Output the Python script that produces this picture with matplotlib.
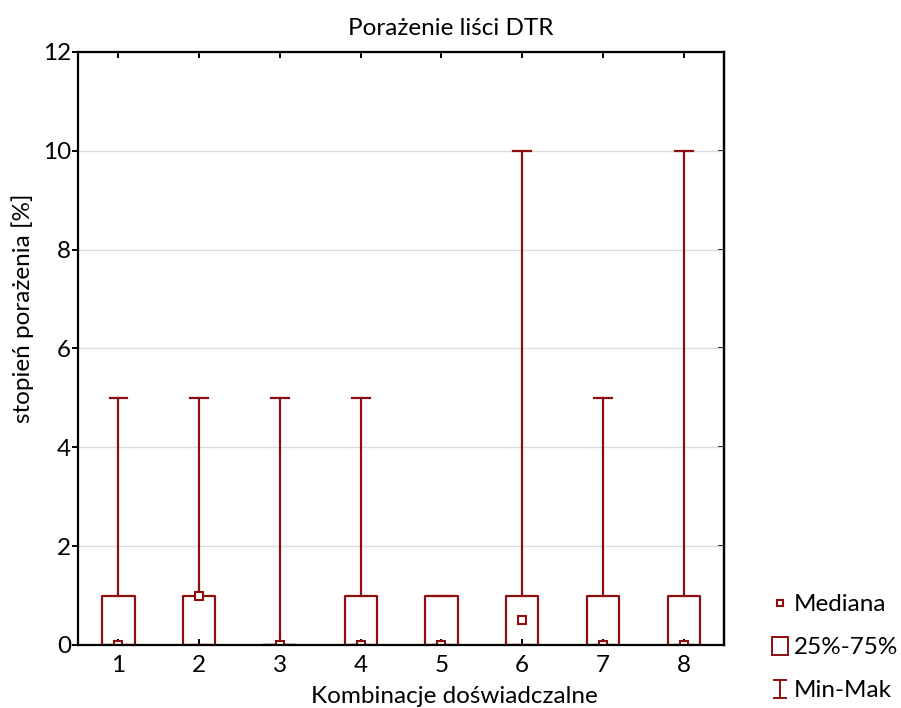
import matplotlib.pyplot as plt
from matplotlib.lines import Line2D
from matplotlib.patches import Rectangle
from matplotlib.legend_handler import HandlerBase

plt.rcParams['font.family'] = ['Lato', 'DejaVu Sans']

groups = [1, 2, 3, 4, 5, 6, 7, 8]
mins = [0, 0, 0, 0, 0, 0, 0, 0]
q1 = [0, 0, 0, 0, 0, 0, 0, 0]
medians = [0, 1, 0, 0, 0, 0.5, 0, 0]
q3 = [1, 1, 0, 1, 1, 1, 1, 1]
maxs = [5, 5, 5, 5, 1, 10, 5, 10]

red = '#8c0f0f'
fs = 17.5

fig = plt.figure(figsize=(9.01, 7.08), dpi=100)
ax = fig.add_axes([0.0866, 0.089, 0.717, 0.8376])

stats = []
for g, lo, a, m, b, hi in zip(groups, mins, q1, medians, q3, maxs):
    stats.append(dict(whislo=lo, q1=a, med=m, q3=b, whishi=hi, mean=m, fliers=[]))

ax.bxp(stats, positions=groups, widths=0.4, capwidths=0.22,
       showmeans=True, showfliers=False,
       boxprops=dict(color=red, linewidth=1.6),
       whiskerprops=dict(color=red, linewidth=1.6),
       capprops=dict(color=red, linewidth=1.6),
       medianprops=dict(linestyle='none'),
       meanprops=dict(marker='s', markersize=5.5, markerfacecolor='white',
                      markeredgecolor=red, markeredgewidth=1.5, linestyle='none'))

ax.set_xlim(0.5, 8.5)
ax.set_ylim(0, 12)
ax.set_yticks([0, 2, 4, 6, 8, 10, 12])
ax.set_xticks(groups)
ax.set_xticklabels([str(g) for g in groups])
ax.yaxis.grid(True, color='#dcdcdc', linewidth=1)
ax.set_axisbelow(True)

for s in ax.spines.values():
    s.set_linewidth(1.6)

ax.tick_params(axis='x', direction='in', top=True, bottom=True, length=4, width=1.4,
               labelsize=fs, pad=7)
ax.tick_params(axis='y', direction='out', left=True, right=False, length=4, width=1.4,
               labelsize=fs, pad=1)
sec = ax.secondary_yaxis('right')
sec.set_yticks([0, 2, 4, 6, 8, 10, 12])
sec.tick_params(direction='in', length=4, width=1.4, labelright=False)
sec.spines['right'].set_linewidth(1.6)

fig.text(0.5, 0.96, 'Porażenie liści DTR', fontsize=fs, ha='center', va='center')
fig.text(0.504, 0.016, 'Kombinacje doświadczalne', fontsize=fs, ha='center', va='center')
fig.text(0.025, 0.565, 'stopień porażenia [%]', fontsize=fs, ha='center', va='center',
         rotation=90)


class WhiskerHandler(HandlerBase):
    def create_artists(self, legend, orig, xd, yd, width, height, fontsize, trans):
        cx = xd + width / 2
        w = height * 0.7
        top = yd + height * 1.0
        bot = yd - height * 0.05
        l1 = Line2D([cx, cx], [bot, top], color=red, lw=1.4, transform=trans)
        l2 = Line2D([cx - w / 2, cx + w / 2], [top, top], color=red, lw=1.4, transform=trans)
        l3 = Line2D([cx - w / 2, cx + w / 2], [bot, bot], color=red, lw=1.4, transform=trans)
        return [l1, l2, l3]


class BoxHandler(HandlerBase):
    def create_artists(self, legend, orig, xd, yd, width, height, fontsize, trans):
        w = height * 0.95
        cx = xd + width / 2
        r = Rectangle((cx - w / 2, yd - height * 0.05), w, height * 1.05,
                      facecolor='white', edgecolor=red, lw=1.4, transform=trans)
        return [r]


h_med = Line2D([], [], marker='s', markersize=5, markerfacecolor='white',
               markeredgecolor=red, markeredgewidth=1.5, linestyle='none')
h_box = Rectangle((0, 0), 1, 1)
h_rng = Line2D([], [])
fig.legend([h_med, h_box, h_rng], ['Mediana', '25%-75%', 'Min-Mak'],
           handler_map={h_box: BoxHandler(), h_rng: WhiskerHandler()},
           loc='lower left', bbox_to_anchor=(0.845, -0.004), frameon=False,
           fontsize=fs, handlelength=0.75, handletextpad=0.2, labelspacing=0.9,
           borderaxespad=0)

fig.savefig('out.png', dpi=100)
